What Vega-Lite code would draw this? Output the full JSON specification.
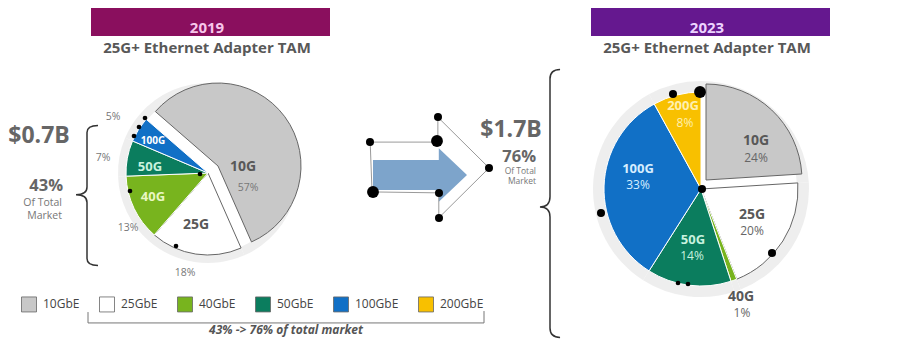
{
  "$schema": "https://vega.github.io/schema/vega-lite/v6.json",
  "width": 900,
  "height": 342,
  "autosize": {"type": "fit", "contains": "padding"},
  "padding": 0,
  "background": "white",
  "config": {"view": {"stroke": null}, "font": "Open Sans"},
  "datasets": {
    "pie": [
      {"year": "2019", "speed": "10GbE", "share": 57, "order": 1},
      {"year": "2019", "speed": "25GbE", "share": 18, "order": 2},
      {"year": "2019", "speed": "40GbE", "share": 13, "order": 3},
      {"year": "2019", "speed": "50GbE", "share": 7, "order": 4},
      {"year": "2019", "speed": "100GbE", "share": 5, "order": 5},
      {"year": "2023", "speed": "10GbE", "share": 24, "order": 1},
      {"year": "2023", "speed": "25GbE", "share": 20, "order": 2},
      {"year": "2023", "speed": "40GbE", "share": 1, "order": 3},
      {"year": "2023", "speed": "50GbE", "share": 14, "order": 4},
      {"year": "2023", "speed": "100GbE", "share": 33, "order": 5},
      {"year": "2023", "speed": "200GbE", "share": 8, "order": 6}
    ],
    "bars": [
      {"year": "2019", "x": 91, "x2": 330, "y": 8, "y2": 36},
      {"year": "2023", "x": 591, "x2": 830, "y": 8, "y2": 36}
    ],
    "yearText": [
      {"text": "2019", "year": "2019", "x": 207, "y": 28},
      {"text": "2023", "year": "2023", "x": 707, "y": 28}
    ],
    "subtitles": [
      {"text": "25G+ Ethernet Adapter TAM", "x": 207, "y": 48},
      {"text": "25G+ Ethernet Adapter TAM", "x": 707, "y": 48}
    ],
    "bigNum": [
      {"text": "$0.7B", "x": 39, "y": 136},
      {"text": "$1.7B", "x": 511, "y": 130}
    ],
    "pctBig": [
      {"text": "43%", "x": 63, "y": 185.5},
      {"text": "76%", "x": 536, "y": 156.5}
    ],
    "ofTotalL": [
      {"text": ["Of Total", "Market"], "x": 62, "y": 203}
    ],
    "ofTotalR": [
      {"text": ["Of Total", "Market"], "x": 536, "y": 171}
    ],
    "outsidePct": [
      {"text": "5%", "x": 113, "y": 117},
      {"text": "7%", "x": 103, "y": 158},
      {"text": "13%", "x": 128, "y": 228},
      {"text": "18%", "x": 185, "y": 273},
      {"text": "57%", "x": 248, "y": 188}
    ],
    "namesDark": [
      {"text": "10G", "x": 243, "y": 167},
      {"text": "25G", "x": 196, "y": 225},
      {"text": "10G", "x": 756, "y": 141},
      {"text": "25G", "x": 752, "y": 215},
      {"text": "40G", "x": 741, "y": 297}
    ],
    "pctDark": [
      {"text": "24%", "x": 756, "y": 158},
      {"text": "20%", "x": 752, "y": 231},
      {"text": "1%", "x": 742, "y": 313}
    ],
    "namesLight": [
      {"text": "40G", "speed": "40GbE", "x": 153, "y": 197},
      {"text": "50G", "speed": "50GbE", "x": 150, "y": 167},
      {"text": "200G", "speed": "200GbE", "x": 683, "y": 106},
      {"text": "100G", "speed": "100GbE", "x": 638, "y": 169},
      {"text": "50G", "speed": "50GbE", "x": 693, "y": 240}
    ],
    "namesTiny": [
      {"text": "100G", "speed": "100GbE", "x": 153, "y": 141}
    ],
    "pctLight": [
      {"text": "8%", "speed": "200GbE", "x": 685, "y": 123},
      {"text": "33%", "speed": "100GbE", "x": 638, "y": 185},
      {"text": "14%", "speed": "50GbE", "x": 692, "y": 256}
    ],
    "caption": [
      {"text": "43% -> 76% of total market", "x": 286, "y": 330}
    ],
    "arrow": [{"x": 420, "y": 175}],
    "braceL": [{"x": 87, "y": 195.5}],
    "braceR": [{"x": 550, "y": 203.5}],
    "bracket": [{"x": 286, "y": 317}],
    "dotsS": [
      {"x": 145, "y": 118}, {"x": 139, "y": 127}, {"x": 134, "y": 136},
      {"x": 130, "y": 191}, {"x": 176, "y": 246}, {"x": 200, "y": 174},
      {"x": 678, "y": 283}, {"x": 688, "y": 284}
    ],
    "dotsM": [
      {"x": 370, "y": 142}, {"x": 438, "y": 117}, {"x": 489, "y": 168},
      {"x": 439, "y": 218}, {"x": 439, "y": 193},
      {"x": 673, "y": 94}, {"x": 702, "y": 189}, {"x": 772, "y": 253}, {"x": 601, "y": 213}
    ],
    "dotsL": [
      {"x": 437, "y": 141}, {"x": 373, "y": 192}, {"x": 700, "y": 92}
    ]
  },
  "layer": [
    {
      "data": {"name": "pie"},
      "transform": [
        {"filter": "datum.year === '2019'"},
        {"stack": "share", "groupby": ["year"], "sort": [{"field": "order", "order": "ascending"}], "as": ["t0", "t1"], "offset": "normalize"}
      ],
      "mark": {"type": "arc", "innerRadius": 81, "outerRadius": 90, "fill": "#ececec", "opacity": 0.9},
      "encoding": {
        "x": {"datum": 208, "type": "quantitative", "scale": {"domain": [0, 900], "nice": false, "zero": false}, "axis": null},
        "y": {"datum": 173, "type": "quantitative", "scale": {"domain": [0, 342], "nice": false, "zero": false, "reverse": true}, "axis": null},
        "theta": {"field": "t0", "type": "quantitative", "stack": null, "scale": {"domain": [0, 1], "range": [-0.855, 5.428]}},
        "theta2": {"field": "t1"}
      }
    },
    {
      "data": {"name": "pie"},
      "transform": [
        {"filter": "datum.year === '2023'"},
        {"stack": "share", "groupby": ["year"], "sort": [{"field": "order", "order": "ascending"}], "as": ["t0", "t1"], "offset": "normalize"}
      ],
      "mark": {"type": "arc", "innerRadius": 96, "outerRadius": 108, "fill": "#ececec", "opacity": 0.9},
      "encoding": {
        "x": {"datum": 701, "type": "quantitative", "scale": {"domain": [0, 900], "nice": false, "zero": false}, "axis": null},
        "y": {"datum": 189, "type": "quantitative", "scale": {"domain": [0, 342], "nice": false, "zero": false, "reverse": true}, "axis": null},
        "theta": {"field": "t0", "type": "quantitative", "stack": null, "scale": {"domain": [0, 1], "range": [0, 6.2832]}},
        "theta2": {"field": "t1"}
      }
    },
    {
      "data": {"name": "pie"},
      "transform": [
        {"filter": "datum.year === '2019'"},
        {"stack": "share", "groupby": ["year"], "sort": [{"field": "order", "order": "ascending"}], "as": ["t0", "t1"], "offset": "normalize"},
        {"filter": "datum.speed !== '10GbE'"}
      ],
      "mark": {"type": "arc", "outerRadius": 82, "strokeWidth": 1},
      "encoding": {
        "x": {"datum": 208, "type": "quantitative", "scale": {"domain": [0, 900], "nice": false, "zero": false}, "axis": null},
        "y": {"datum": 173, "type": "quantitative", "scale": {"domain": [0, 342], "nice": false, "zero": false, "reverse": true}, "axis": null},
        "theta": {"field": "t0", "type": "quantitative", "stack": null, "scale": {"domain": [0, 1], "range": [-0.855, 5.428]}},
        "theta2": {"field": "t1"},
        "color": {
          "field": "speed", "type": "nominal",
          "scale": {"domain": ["10GbE", "25GbE", "40GbE", "50GbE", "100GbE", "200GbE"], "range": ["#c8c8c8", "#ffffff", "#78b41e", "#0b7d5e", "#1170c6", "#f8c000"]},
          "legend": {"orient": "none", "legendX": 21, "legendY": 296, "direction": "horizontal", "title": null, "symbolType": "square", "symbolSize": 225, "symbolStrokeColor": "#bbbbbb", "symbolStrokeWidth": 0.8, "symbolOpacity": 1, "labelFontSize": 12, "labelFont": "Open Sans", "labelColor": "#444444", "labelOffset": 6, "columnPadding": 17, "padding": 0}
        },
        "stroke": {"condition": {"test": "datum.speed === '25GbE'", "value": "#666666"}, "value": "#ffffff"}
      }
    },
    {
      "data": {"name": "pie"},
      "transform": [
        {"filter": "datum.year === '2019'"},
        {"stack": "share", "groupby": ["year"], "sort": [{"field": "order", "order": "ascending"}], "as": ["t0", "t1"], "offset": "normalize"},
        {"filter": "datum.speed === '10GbE'"}
      ],
      "mark": {"type": "arc", "outerRadius": 83, "strokeWidth": 1, "stroke": "#666666", "xOffset": 10, "yOffset": -7},
      "encoding": {
        "x": {"datum": 208, "type": "quantitative", "scale": {"domain": [0, 900], "nice": false, "zero": false}, "axis": null},
        "y": {"datum": 173, "type": "quantitative", "scale": {"domain": [0, 342], "nice": false, "zero": false, "reverse": true}, "axis": null},
        "theta": {"field": "t0", "type": "quantitative", "stack": null, "scale": {"domain": [0, 1], "range": [-0.855, 5.428]}},
        "theta2": {"field": "t1"},
        "color": {"field": "speed", "type": "nominal"}
      }
    },
    {
      "data": {"name": "pie"},
      "transform": [
        {"filter": "datum.year === '2023'"},
        {"stack": "share", "groupby": ["year"], "sort": [{"field": "order", "order": "ascending"}], "as": ["t0", "t1"], "offset": "normalize"},
        {"filter": "datum.speed !== '10GbE'"}
      ],
      "mark": {"type": "arc", "outerRadius": 97, "strokeWidth": 1},
      "encoding": {
        "x": {"datum": 701, "type": "quantitative", "scale": {"domain": [0, 900], "nice": false, "zero": false}, "axis": null},
        "y": {"datum": 189, "type": "quantitative", "scale": {"domain": [0, 342], "nice": false, "zero": false, "reverse": true}, "axis": null},
        "theta": {"field": "t0", "type": "quantitative", "stack": null, "scale": {"domain": [0, 1], "range": [0, 6.2832]}},
        "theta2": {"field": "t1"},
        "color": {"field": "speed", "type": "nominal"},
        "stroke": {"condition": {"test": "datum.speed === '25GbE'", "value": "#666666"}, "value": "#ffffff"}
      }
    },
    {
      "data": {"name": "pie"},
      "transform": [
        {"filter": "datum.year === '2023'"},
        {"stack": "share", "groupby": ["year"], "sort": [{"field": "order", "order": "ascending"}], "as": ["t0", "t1"], "offset": "normalize"},
        {"filter": "datum.speed === '10GbE'"}
      ],
      "mark": {"type": "arc", "outerRadius": 96, "strokeWidth": 1, "stroke": "#666666", "xOffset": 5, "yOffset": -9},
      "encoding": {
        "x": {"datum": 701, "type": "quantitative", "scale": {"domain": [0, 900], "nice": false, "zero": false}, "axis": null},
        "y": {"datum": 189, "type": "quantitative", "scale": {"domain": [0, 342], "nice": false, "zero": false, "reverse": true}, "axis": null},
        "theta": {"field": "t0", "type": "quantitative", "stack": null, "scale": {"domain": [0, 1], "range": [0, 6.2832]}},
        "theta2": {"field": "t1"},
        "color": {"field": "speed", "type": "nominal"}
      }
    },
    {
      "data": {"name": "bars"},
      "mark": {"type": "rect"},
      "encoding": {
        "x": {"field": "x", "type": "quantitative", "scale": {"domain": [0, 900], "nice": false, "zero": false}, "axis": null},
        "x2": {"field": "x2"},
        "y": {"field": "y", "type": "quantitative", "scale": {"domain": [0, 342], "nice": false, "zero": false, "reverse": true}, "axis": null},
        "y2": {"field": "y2"},
        "fill": {"condition": {"test": "datum.year === '2019'", "value": "#8a0f5e"}, "value": "#65188f"}
      }
    },
    {
      "data": {"name": "yearText"},
      "mark": {"type": "text", "fontWeight": "bold", "fontSize": 15, "font": "Open Sans"},
      "encoding": {
        "x": {"field": "x", "type": "quantitative", "scale": {"domain": [0, 900], "nice": false, "zero": false}, "axis": null},
        "y": {"field": "y", "type": "quantitative", "scale": {"domain": [0, 342], "nice": false, "zero": false, "reverse": true}, "axis": null},
        "text": {"field": "text"},
        "fill": {"condition": {"test": "datum.year === '2019'", "value": "#f7c6ea"}, "value": "#ecd4ff"}
      }
    },
    {
      "data": {"name": "subtitles"},
      "mark": {"type": "text", "fontWeight": "bold", "fontSize": 15, "font": "Open Sans", "color": "#585858"},
      "encoding": {
        "x": {"field": "x", "type": "quantitative", "scale": {"domain": [0, 900], "nice": false, "zero": false}, "axis": null},
        "y": {"field": "y", "type": "quantitative", "scale": {"domain": [0, 342], "nice": false, "zero": false, "reverse": true}, "axis": null},
        "text": {"field": "text"}
      }
    },
    {
      "data": {"name": "bigNum"},
      "mark": {"type": "text", "fontWeight": "bold", "fontSize": 23, "font": "Open Sans", "color": "#666666"},
      "encoding": {
        "x": {"field": "x", "type": "quantitative", "scale": {"domain": [0, 900], "nice": false, "zero": false}, "axis": null},
        "y": {"field": "y", "type": "quantitative", "scale": {"domain": [0, 342], "nice": false, "zero": false, "reverse": true}, "axis": null},
        "text": {"field": "text"}
      }
    },
    {
      "data": {"name": "pctBig"},
      "mark": {"type": "text", "fontWeight": "bold", "fontSize": 16.5, "font": "Open Sans", "color": "#666666", "align": "right"},
      "encoding": {
        "x": {"field": "x", "type": "quantitative", "scale": {"domain": [0, 900], "nice": false, "zero": false}, "axis": null},
        "y": {"field": "y", "type": "quantitative", "scale": {"domain": [0, 342], "nice": false, "zero": false, "reverse": true}, "axis": null},
        "text": {"field": "text"}
      }
    },
    {
      "data": {"name": "ofTotalL"},
      "mark": {"type": "text", "fontSize": 10.5, "lineHeight": 12.5, "font": "Open Sans", "color": "#777777", "align": "right"},
      "encoding": {
        "x": {"field": "x", "type": "quantitative", "scale": {"domain": [0, 900], "nice": false, "zero": false}, "axis": null},
        "y": {"field": "y", "type": "quantitative", "scale": {"domain": [0, 342], "nice": false, "zero": false, "reverse": true}, "axis": null},
        "text": {"field": "text"}
      }
    },
    {
      "data": {"name": "ofTotalR"},
      "mark": {"type": "text", "fontSize": 8.5, "lineHeight": 10, "font": "Open Sans", "color": "#777777", "align": "right"},
      "encoding": {
        "x": {"field": "x", "type": "quantitative", "scale": {"domain": [0, 900], "nice": false, "zero": false}, "axis": null},
        "y": {"field": "y", "type": "quantitative", "scale": {"domain": [0, 342], "nice": false, "zero": false, "reverse": true}, "axis": null},
        "text": {"field": "text"}
      }
    },
    {
      "data": {"name": "outsidePct"},
      "mark": {"type": "text", "fontSize": 10.5, "font": "Open Sans", "color": "#777777"},
      "encoding": {
        "x": {"field": "x", "type": "quantitative", "scale": {"domain": [0, 900], "nice": false, "zero": false}, "axis": null},
        "y": {"field": "y", "type": "quantitative", "scale": {"domain": [0, 342], "nice": false, "zero": false, "reverse": true}, "axis": null},
        "text": {"field": "text"}
      }
    },
    {
      "data": {"name": "namesDark"},
      "mark": {"type": "text", "fontSize": 14, "fontWeight": "bold", "font": "Open Sans", "color": "#585858"},
      "encoding": {
        "x": {"field": "x", "type": "quantitative", "scale": {"domain": [0, 900], "nice": false, "zero": false}, "axis": null},
        "y": {"field": "y", "type": "quantitative", "scale": {"domain": [0, 342], "nice": false, "zero": false, "reverse": true}, "axis": null},
        "text": {"field": "text"}
      }
    },
    {
      "data": {"name": "pctDark"},
      "mark": {"type": "text", "fontSize": 12, "font": "Open Sans", "color": "#666666"},
      "encoding": {
        "x": {"field": "x", "type": "quantitative", "scale": {"domain": [0, 900], "nice": false, "zero": false}, "axis": null},
        "y": {"field": "y", "type": "quantitative", "scale": {"domain": [0, 342], "nice": false, "zero": false, "reverse": true}, "axis": null},
        "text": {"field": "text"}
      }
    },
    {
      "data": {"name": "namesLight"},
      "mark": {"type": "text", "fontSize": 13, "fontWeight": "bold", "font": "Open Sans"},
      "encoding": {
        "x": {"field": "x", "type": "quantitative", "scale": {"domain": [0, 900], "nice": false, "zero": false}, "axis": null},
        "y": {"field": "y", "type": "quantitative", "scale": {"domain": [0, 342], "nice": false, "zero": false, "reverse": true}, "axis": null},
        "text": {"field": "text"},
        "fill": {"field": "speed", "type": "nominal", "scale": {"domain": ["40GbE", "50GbE", "100GbE", "200GbE"], "range": ["#eaf7c4", "#c8f2df", "#d6eeff", "#fff0b0"]}, "legend": null}
      }
    },
    {
      "data": {"name": "namesTiny"},
      "mark": {"type": "text", "fontSize": 10, "fontWeight": "bold", "font": "Open Sans", "color": "#ffffff"},
      "encoding": {
        "x": {"field": "x", "type": "quantitative", "scale": {"domain": [0, 900], "nice": false, "zero": false}, "axis": null},
        "y": {"field": "y", "type": "quantitative", "scale": {"domain": [0, 342], "nice": false, "zero": false, "reverse": true}, "axis": null},
        "text": {"field": "text"}
      }
    },
    {
      "data": {"name": "pctLight"},
      "mark": {"type": "text", "fontSize": 12, "font": "Open Sans"},
      "encoding": {
        "x": {"field": "x", "type": "quantitative", "scale": {"domain": [0, 900], "nice": false, "zero": false}, "axis": null},
        "y": {"field": "y", "type": "quantitative", "scale": {"domain": [0, 342], "nice": false, "zero": false, "reverse": true}, "axis": null},
        "text": {"field": "text"},
        "fill": {"field": "speed", "type": "nominal", "legend": null}
      }
    },
    {
      "data": {"name": "caption"},
      "mark": {"type": "text", "fontSize": 12, "fontWeight": "bold", "fontStyle": "italic", "font": "Open Sans", "color": "#555555"},
      "encoding": {
        "x": {"field": "x", "type": "quantitative", "scale": {"domain": [0, 900], "nice": false, "zero": false}, "axis": null},
        "y": {"field": "y", "type": "quantitative", "scale": {"domain": [0, 342], "nice": false, "zero": false, "reverse": true}, "axis": null},
        "text": {"field": "text"}
      }
    },
    {
      "data": {"name": "arrow"},
      "mark": {"type": "point", "shape": "M-1,-0.32 L0.4,-0.32 L0.4,-0.57 L1,0 L0.4,0.57 L0.4,0.32 L-1,0.32 Z", "size": 8836, "filled": true, "fill": "#7da4cb", "strokeWidth": 0, "opacity": 1},
      "encoding": {
        "x": {"field": "x", "type": "quantitative", "scale": {"domain": [0, 900], "nice": false, "zero": false}, "axis": null},
        "y": {"field": "y", "type": "quantitative", "scale": {"domain": [0, 342], "nice": false, "zero": false, "reverse": true}, "axis": null}
      }
    },
    {
      "data": {"name": "arrow"},
      "mark": {"type": "point", "shape": "M-1.06,-0.7 L0.38,-0.7 L0.38,-1.23 L1.47,-0.15 L0.4,0.91 L0.4,0.38 L-1.02,0.36 Z", "size": 8836, "filled": false, "stroke": "#9a9a9a", "strokeWidth": 1, "opacity": 1},
      "encoding": {
        "x": {"field": "x", "type": "quantitative", "scale": {"domain": [0, 900], "nice": false, "zero": false}, "axis": null},
        "y": {"field": "y", "type": "quantitative", "scale": {"domain": [0, 342], "nice": false, "zero": false, "reverse": true}, "axis": null}
      }
    },
    {
      "data": {"name": "braceL"},
      "mark": {"type": "point", "shape": "M0.157,-1 Q0,-1 0,-0.9 L0,-0.12 Q0,-0.01 -0.157,-0.01 Q0,-0.01 0,0.1 L0,0.9 Q0,1 0.157,1", "size": 19600, "filled": false, "stroke": "#333333", "strokeWidth": 1.5, "opacity": 1},
      "encoding": {
        "x": {"field": "x", "type": "quantitative", "scale": {"domain": [0, 900], "nice": false, "zero": false}, "axis": null},
        "y": {"field": "y", "type": "quantitative", "scale": {"domain": [0, 342], "nice": false, "zero": false, "reverse": true}, "axis": null}
      }
    },
    {
      "data": {"name": "braceR"},
      "mark": {"type": "point", "shape": "M0.075,-1 Q0,-1 0,-0.93 L0,-0.05 Q0,0.026 -0.075,0.026 Q0,0.026 0,0.1 L0,0.93 Q0,1 0.075,1", "size": 71824, "filled": false, "stroke": "#333333", "strokeWidth": 1.5, "opacity": 1},
      "encoding": {
        "x": {"field": "x", "type": "quantitative", "scale": {"domain": [0, 900], "nice": false, "zero": false}, "axis": null},
        "y": {"field": "y", "type": "quantitative", "scale": {"domain": [0, 342], "nice": false, "zero": false, "reverse": true}, "axis": null}
      }
    },
    {
      "data": {"name": "bracket"},
      "mark": {"type": "point", "shape": "M-1,-0.025 L-1,0.03 L1,0.03 L1,-0.03", "size": 156816, "filled": false, "stroke": "#777777", "strokeWidth": 1, "opacity": 1},
      "encoding": {
        "x": {"field": "x", "type": "quantitative", "scale": {"domain": [0, 900], "nice": false, "zero": false}, "axis": null},
        "y": {"field": "y", "type": "quantitative", "scale": {"domain": [0, 342], "nice": false, "zero": false, "reverse": true}, "axis": null}
      }
    },
    {
      "data": {"name": "dotsS"},
      "mark": {"type": "circle", "size": 22, "color": "#000000", "opacity": 1},
      "encoding": {
        "x": {"field": "x", "type": "quantitative", "scale": {"domain": [0, 900], "nice": false, "zero": false}, "axis": null},
        "y": {"field": "y", "type": "quantitative", "scale": {"domain": [0, 342], "nice": false, "zero": false, "reverse": true}, "axis": null}
      }
    },
    {
      "data": {"name": "dotsM"},
      "mark": {"type": "circle", "size": 65, "color": "#000000", "opacity": 1},
      "encoding": {
        "x": {"field": "x", "type": "quantitative", "scale": {"domain": [0, 900], "nice": false, "zero": false}, "axis": null},
        "y": {"field": "y", "type": "quantitative", "scale": {"domain": [0, 342], "nice": false, "zero": false, "reverse": true}, "axis": null}
      }
    },
    {
      "data": {"name": "dotsL"},
      "mark": {"type": "circle", "size": 140, "color": "#000000", "opacity": 1},
      "encoding": {
        "x": {"field": "x", "type": "quantitative", "scale": {"domain": [0, 900], "nice": false, "zero": false}, "axis": null},
        "y": {"field": "y", "type": "quantitative", "scale": {"domain": [0, 342], "nice": false, "zero": false, "reverse": true}, "axis": null}
      }
    }
  ],
  "resolve": {"scale": {"theta": "independent"}}
}
